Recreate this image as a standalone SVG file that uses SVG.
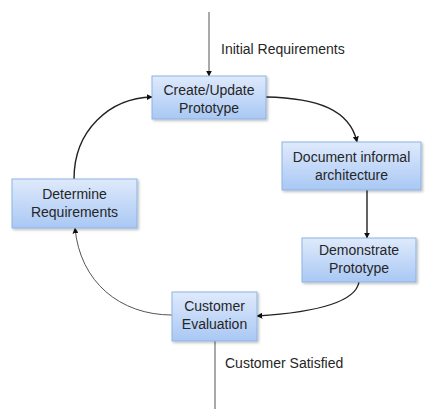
<svg xmlns="http://www.w3.org/2000/svg" width="425" height="409" viewBox="0 0 425 409">
  <defs>
    <linearGradient id="boxFill" x1="0" y1="0" x2="0" y2="1">
      <stop offset="0" stop-color="#dfeafc"/>
      <stop offset="1" stop-color="#a9c8f4"/>
    </linearGradient>
    <filter id="shadow" x="-10%" y="-10%" width="125%" height="130%">
      <feDropShadow dx="1.5" dy="1.5" stdDeviation="1" flood-color="#000" flood-opacity="0.25"/>
    </filter>
    <marker id="arrow" viewBox="0 0 10 10" refX="9" refY="5" markerWidth="6" markerHeight="6" markerUnits="userSpaceOnUse" orient="auto">
      <path d="M0,0 L10,5 L0,10 z" fill="#111"/>
    </marker>
  </defs>
  <style>
    .box { fill: url(#boxFill); stroke: #8db3e2; stroke-width: 1; filter: url(#shadow); }
    .label { font-family: "Liberation Sans", Arial, sans-serif; font-size: 14px; fill: #262626; text-anchor: middle; }
    .note { font-family: "Liberation Sans", Arial, sans-serif; font-size: 14px; fill: #262626; }
    .conn { fill: none; stroke: #222; stroke-width: 1.4; }
    .thin { fill: none; stroke: #555; stroke-width: 1; }
  </style>

  <rect width="425" height="409" fill="#fff"/>

  <g id="connectors">
    <path class="thin" d="M209,12 L209,76" marker-end="url(#arrow)"/>
    <path class="conn" d="M266,97 C318,98 350,110 357,142" marker-end="url(#arrow)"/>
    <path class="conn" d="M367,190 L367,238" marker-end="url(#arrow)"/>
    <path class="conn" d="M359,282 C355,305 305,313 257,316" marker-end="url(#arrow)"/>
    <path class="thin" d="M172,315 C120,315 80,282 75,228" marker-end="url(#arrow)"/>
    <path class="conn" d="M74,179 C74,130 110,98 152,97" marker-end="url(#arrow)"/>
    <path class="thin" d="M215,341 L215,409"/>
  </g>

  <g id="label-initial">
    <text class="note" x="221" y="54">Initial Requirements</text>
  </g>
  <g id="label-satisfied">
    <text class="note" x="225" y="368">Customer Satisfied</text>
  </g>

  <g id="node-create">
    <rect class="box" x="152" y="76" width="114" height="43"/>
    <text class="label" x="209" y="95">Create/Update</text>
    <text class="label" x="209" y="113">Prototype</text>
  </g>

  <g id="node-document">
    <rect class="box" x="282" y="142" width="139" height="48"/>
    <text class="label" x="351.5" y="161.5">Document informal</text>
    <text class="label" x="351.5" y="180">architecture</text>
  </g>

  <g id="node-demonstrate">
    <rect class="box" x="302" y="238" width="114" height="44"/>
    <text class="label" x="359" y="255">Demonstrate</text>
    <text class="label" x="359" y="273">Prototype</text>
  </g>

  <g id="node-evaluation">
    <rect class="box" x="172" y="292" width="85" height="49"/>
    <text class="label" x="214.5" y="311">Customer</text>
    <text class="label" x="214.5" y="329">Evaluation</text>
  </g>

  <g id="node-determine">
    <rect class="box" x="12" y="179" width="125" height="49"/>
    <text class="label" x="74.5" y="199">Determine</text>
    <text class="label" x="74.5" y="217">Requirements</text>
  </g>
</svg>
